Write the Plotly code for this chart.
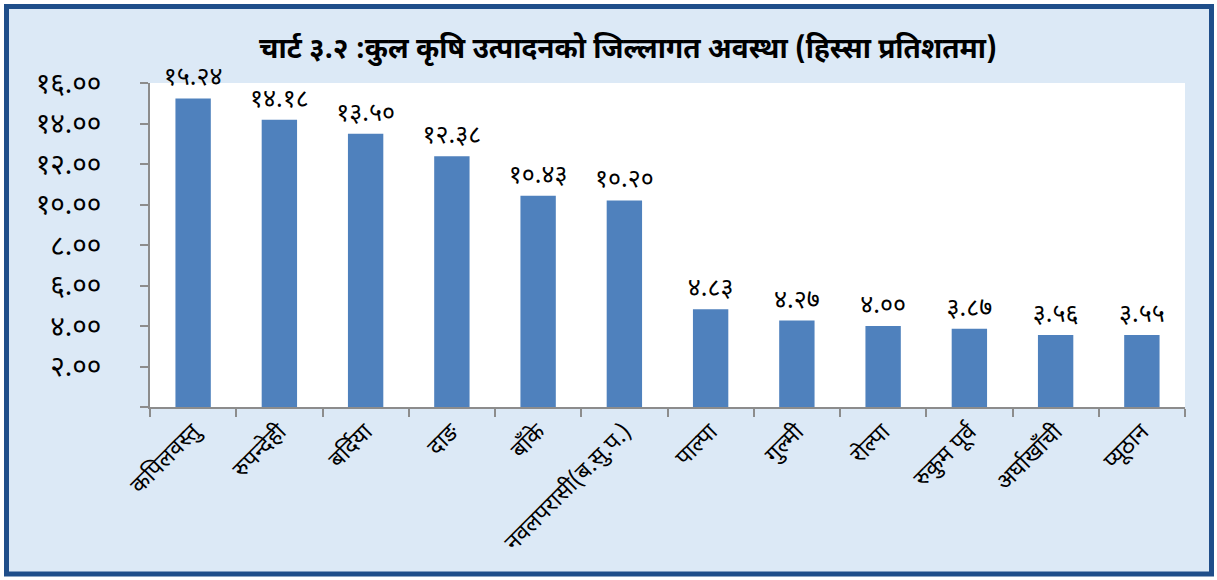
import plotly.graph_objects as go

districts = ["कपिलवस्तु", "रुपन्देही", "बर्दिया", "दाङ", "बाँके", "नवलपरासी(ब.सु.प.)",
             "पाल्पा", "गुल्मी", "रोल्पा", "रुकुम पूर्व", "अर्घाखाँची", "प्यूठान"]
share = [15.24, 14.18, 13.50, 12.38, 10.43, 10.20, 4.83, 4.27, 4.00, 3.87, 3.56, 3.55]
y_ticks = [0, 2, 4, 6, 8, 10, 12, 14, 16]
title_text = "चार्ट ३.२ :कुल कृषि उत्पादनको जिल्लागत अवस्था (हिस्सा प्रतिशतमा)"

DEV = str.maketrans("0123456789", "०१२३४५६७८९")

def dev(v):
    return f"{v:.2f}".translate(DEV)

y_text = [dev(v) if v > 0 else "" for v in y_ticks]
labels = [dev(v) for v in share]

FONT = "Noto Sans Devanagari, Noto Sans, Lohit Devanagari, sans-serif"

W, H = 1217, 580
L, R, T, B = 150, 32, 83, 173
pw, ph = W - L - R, H - T - B

def px(x):
    return (x - L) / pw

def py(y):
    return (H - B - y) / ph

fig = go.Figure(go.Bar(
    x=districts, y=share, text=labels, textposition="outside",
    constraintext="none",
    textfont=dict(size=25, color="black", family=FONT, weight="normal"),
    marker=dict(color="#4F81BD", line=dict(width=0)),
    cliponaxis=False,
))

fig.update_layout(
    width=W, height=H,
    margin=dict(l=L, r=R, t=T, b=B, autoexpand=False),
    paper_bgcolor="white",
    plot_bgcolor="white",
    bargap=0.59,
    showlegend=False,
    title=dict(text=title_text, x=628 / W, xref="container", xanchor="center",
               y=1 - 48 / H, yref="container", yanchor="middle",
               font=dict(size=28, color="black", family=FONT, weight="bold")),
    shapes=[
        dict(type="rect", xref="paper", yref="paper", layer="below",
             x0=px(6.5), x1=px(1211.5), y0=py(574), y1=py(6.5),
             fillcolor="#DCE9F6", line=dict(color="#1F4E8A", width=5)),
        dict(type="rect", xref="paper", yref="paper", layer="below",
             x0=0, x1=1, y0=0, y1=1, fillcolor="white", line=dict(width=0)),
    ],
)

fig.update_xaxes(
    type="category", tickangle=-45, tickson="boundaries",
    ticks="outside", ticklen=8, tickcolor="#8C8C8C", tickwidth=2,
    showline=True, linecolor="#8C8C8C", linewidth=2,
    showgrid=False, automargin=False,
    tickfont=dict(size=23, color="black", family=FONT, weight="normal"),
)
fig.update_yaxes(
    range=[0, 16], tickmode="array", tickvals=y_ticks, ticktext=y_text,
    ticks="outside", ticklen=8, tickcolor="#8C8C8C", tickwidth=2,
    showline=True, linecolor="#8C8C8C", linewidth=2,
    showgrid=False, zeroline=False, automargin=False,
    ticklabelstandoff=33,
    tickfont=dict(size=28, color="black", family=FONT, weight="normal"),
)

fig.write_html("out.html", post_script="document.body.style.margin='0px';",
               config={"displayModeBar": False})
